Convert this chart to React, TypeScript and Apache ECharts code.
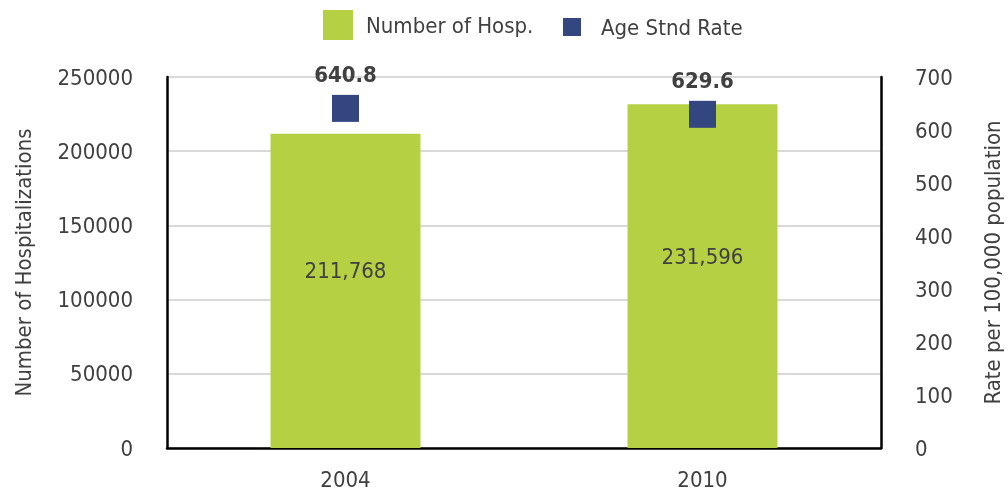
import React, { useEffect, useRef } from "react";
import * as echarts from "echarts";

const categories = ["2004", "2010"];
const hospitalizations = [211768, 231596];
const ageStndRate = [640.8, 629.6];
const leftTicks = [0, 50000, 100000, 150000, 200000, 250000];
const rightTicks = [0, 100, 200, 300, 400, 500, 600, 700];

const FONT = "'Liberation Sans Narrow', 'DejaVu Sans Condensed', sans-serif";
const TXT = "#404040";
const FS = 22;
const GREEN = "#b6d044";
const BLUE = "#334680";

export default function App() {
  const ref = useRef<HTMLDivElement>(null);
  useEffect(() => {
    if (!ref.current) return;
    const chart = echarts.init(ref.current, undefined, { renderer: "svg" });
    chart.setOption({
      animation: false,
      textStyle: { fontFamily: FONT, color: TXT },
      legend: [
        {
          left: 323,
          top: 10,
          padding: 0,
          itemWidth: 30,
          itemHeight: 30,
          textStyle: { fontFamily: FONT, fontSize: FS, color: TXT, padding: [0, 0, 0, 8] },
          data: [{ name: "Number of Hosp.", icon: "rect" }],
        },
        {
          left: 563,
          top: 16,
          padding: 0,
          itemWidth: 18,
          itemHeight: 18,
          textStyle: { fontFamily: FONT, fontSize: FS, color: TXT, padding: [0, 0, 0, 15] },
          data: [{ name: "Age Stnd Rate", icon: "rect", itemStyle: { color: BLUE } }],
        },
      ],
      grid: { left: 167, right: 127, top: 77, bottom: 50, outerBoundsMode: "none", containLabel: false },
      xAxis: {
        type: "category",
        data: categories,
        axisLine: { lineStyle: { color: "#000", width: 2.5 } },
        axisTick: { show: false },
        axisLabel: { fontFamily: FONT, fontSize: FS, color: TXT, margin: 20 },
      },
      yAxis: [
        {
          type: "value",
          min: leftTicks[0],
          max: leftTicks[leftTicks.length - 1],
          interval: 50000,
          name: "Number of Hospitalizations",
          nameLocation: "middle",
          nameGap: 133,
          nameTextStyle: { fontFamily: FONT, fontSize: FS, color: TXT },
          axisLine: { show: true, lineStyle: { color: "#000", width: 2.5 } },
          axisTick: { show: false },
          axisLabel: { fontFamily: FONT, fontSize: FS, color: TXT, margin: 34, formatter: (v: number) => String(v) },
          splitLine: { lineStyle: { color: "#d9d9d9", width: 2 } },
        },
        {
          type: "value",
          min: rightTicks[0],
          max: rightTicks[rightTicks.length - 1],
          interval: 100,
          position: "right",
          name: "Rate per 100,000 population",
          nameLocation: "middle",
          nameGap: 100,
          nameRotate: 90,
          nameTextStyle: { fontFamily: FONT, fontSize: FS, color: TXT },
          axisLine: { show: true, lineStyle: { color: "#000", width: 2.5 } },
          axisTick: { show: false },
          axisLabel: { fontFamily: FONT, fontSize: FS, color: TXT, margin: 34, formatter: (v: number) => String(v) },
          splitLine: { show: false },
        },
      ],
      series: [
        {
          name: "Number of Hosp.",
          type: "bar",
          data: hospitalizations,
          barWidth: "42%",
          itemStyle: { color: GREEN },
          label: {
            show: true,
            position: "inside",
            offset: [0, -20],
            fontFamily: FONT,
            fontSize: FS,
            color: TXT,
            formatter: (p: any) => Number(p.value).toLocaleString("en-US"),
          },
        },
        {
          name: "Age Stnd Rate",
          type: "scatter",
          yAxisIndex: 1,
          data: ageStndRate,
          symbol: "rect",
          symbolSize: 27,
          itemStyle: { color: BLUE, opacity: 1 },
          z: 5,
          label: {
            show: true,
            position: "top",
            distance: 9,
            fontFamily: FONT,
            fontSize: FS,
            fontWeight: "bold",
            color: TXT,
            formatter: (p: any) => Number(p.value).toFixed(1),
          },
        },
      ],
    });
    return () => chart.dispose();
  }, []);
  return (
    <div
      ref={ref}
      style={{ position: "fixed", left: 0, top: 0, width: 1008, height: 498 }}
    />
  );
}
